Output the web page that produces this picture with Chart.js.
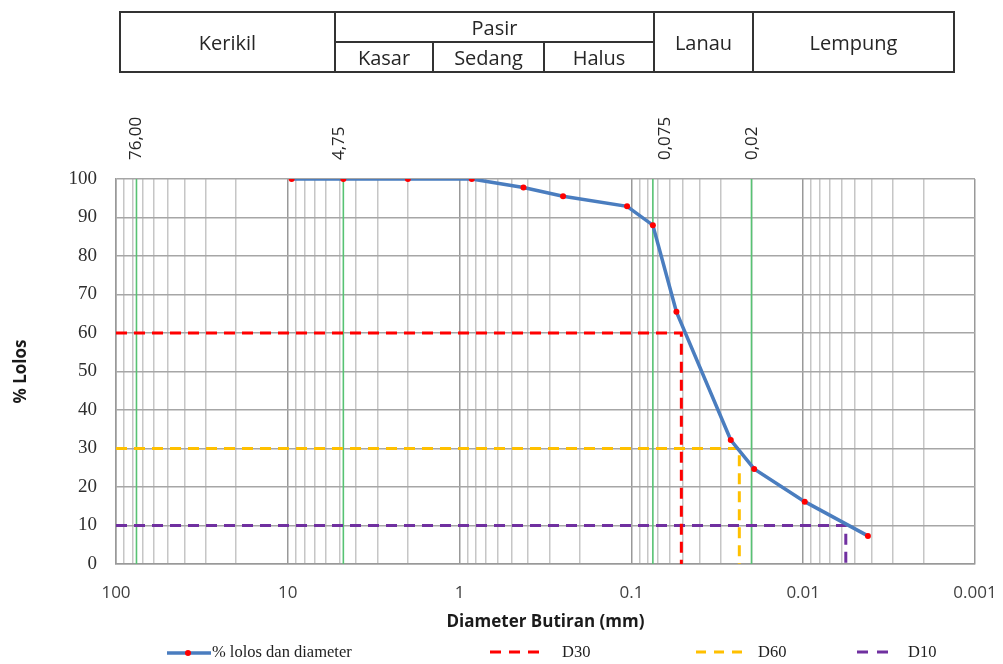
<!DOCTYPE html>
<html>
<head>
<meta charset="utf-8">
<script src="https://cdn.jsdelivr.net/npm/chart.js@4.4.0/dist/chart.umd.min.js"></script>
<style>
  html, body { margin:0; padding:0; background:#fff; }
  #wrap { position:relative; width:1003px; height:664px; overflow:hidden; }
  #c { position:absolute; left:0; top:0; }
  .cell { position:absolute; box-sizing:border-box; border:2px solid #333; display:flex; align-items:center; justify-content:center;
          font-family:"Open Sans", sans-serif; font-size:20px; color:#262626; background:transparent; }
  .leg { position:absolute; top:642px; height:20px; font-family:"Liberation Serif", serif; font-size:16.5px; color:#222; line-height:20px; white-space:nowrap; }
  .legsvg { position:absolute; top:643px; }
</style>
</head>
<body>
<div id="wrap">
  <canvas id="c" width="1003" height="664"></canvas>

  <!-- classification table -->
  <div class="cell" style="left:119px; top:11px; width:217px; height:62px;">Kerikil</div>
  <div class="cell" style="left:334px; top:11px; width:321px; height:32px;">Pasir</div>
  <div class="cell" style="left:334px; top:41px; width:100px; height:32px;">Kasar</div>
  <div class="cell" style="left:432px; top:41px; width:113px; height:32px;">Sedang</div>
  <div class="cell" style="left:543px; top:41px; width:112px; height:32px;">Halus</div>
  <div class="cell" style="left:653px; top:11px; width:101px; height:62px;">Lanau</div>
  <div class="cell" style="left:752px; top:11px; width:203px; height:62px;">Lempung</div>

  <!-- legend -->
  <svg class="legsvg" style="left:166px;" width="46" height="20">
    <line x1="1" y1="10" x2="45" y2="10" stroke="#4a7dbf" stroke-width="3.5"/>
    <circle cx="22" cy="10" r="3" fill="#ff0000"/>
  </svg>
  <div class="leg" style="left:212px;">% lolos dan diameter</div>
  <svg class="legsvg" style="left:489px;" width="52" height="20">
    <line x1="1" y1="9" x2="51" y2="9" stroke="#ff0000" stroke-width="3" stroke-dasharray="11,8"/>
  </svg>
  <div class="leg" style="left:562px;">D30</div>
  <svg class="legsvg" style="left:695px;" width="50" height="20">
    <line x1="1" y1="9" x2="48" y2="9" stroke="#ffc000" stroke-width="3" stroke-dasharray="10,8"/>
  </svg>
  <div class="leg" style="left:758px;">D60</div>
  <svg class="legsvg" style="left:856px;" width="36" height="20">
    <line x1="1" y1="9" x2="34" y2="9" stroke="#7030a0" stroke-width="3" stroke-dasharray="11,9"/>
  </svg>
  <div class="leg" style="left:908px;">D10</div>
</div>

<script>
// ---- data ----
const diameters      = [9.5, 4.75, 2.0, 0.85, 0.425, 0.25, 0.106, 0.075, 0.0547, 0.0264, 0.0193, 0.0098, 0.0042];
const percentPassing = [100, 100, 100, 100, 97.8, 95.5, 92.9, 88.0, 65.5, 32.2, 24.7, 16.2, 7.3];

const d30X = [100, 0.0512, 0.0512];
const d30Y = [60, 60, 0];
const d60X = [100, 0.02354, 0.02354];
const d60Y = [30, 30, 0];
const d10X = [100, 0.00565, 0.00565];
const d10Y = [10, 10, 0];

const markerValues = [76, 4.75, 0.075, 0.02];
const markerLabels = ['76,00', '4,75', '0,075', '0,02'];

const xTickValues = [100, 10, 1, 0.1, 0.01, 0.001];
const xTickLabels = ['100', '10', '1', '0.1', '0.01', '0.001'];
const yTickValues = [0, 10, 20, 30, 40, 50, 60, 70, 80, 90, 100];

// ---- helpers ----
const pts = (xs, ys) => xs.map((x, i) => ({ x: x, y: ys[i] }));
const isDecade = v => Math.abs(Math.log10(v) - Math.round(Math.log10(v))) < 1e-6;

// grid positions of a log axis: 1..9 x 10^k
const gridValues = [];
for (let k = -3; k <= 1; k++) for (let m = 1; m <= 9; m++) gridValues.push(+(m * Math.pow(10, k)).toPrecision(6));
gridValues.push(100);

const markerDatasets = markerValues.map(v => ({
  label: 'm' + v,
  data: [{ x: v, y: 0 }, { x: v, y: 100 }],
  borderColor: '#57c273',
  borderWidth: 1.6,
  pointRadius: 0,
  order: 3
}));

const markerLabelPlugin = {
  id: 'markerLabels',
  afterDraw(chart) {
    const ctx = chart.ctx;
    const xs = chart.scales.x;
    const offsets = [0, -4, 12, 1];
    ctx.save();
    ctx.fillStyle = '#262626';
    ctx.font = '17px "Open Sans", sans-serif';
    ctx.textAlign = 'left';
    ctx.textBaseline = 'middle';
    markerValues.forEach((v, i) => {
      const px = xs.getPixelForValue(v) + offsets[i];
      ctx.save();
      ctx.translate(px, 160);
      ctx.rotate(-Math.PI / 2);
      ctx.fillText(markerLabels[i], 0, 0);
      ctx.restore();
    });
    ctx.restore();
  }
};

new Chart(document.getElementById('c'), {
  type: 'line',
  data: {
    datasets: [
      {
        label: '% lolos dan diameter',
        data: pts(diameters, percentPassing),
        borderColor: '#4a7dbf',
        borderWidth: 3.5,
        pointRadius: 3,
        pointBackgroundColor: '#ff0000',
        pointBorderWidth: 0,
        pointBorderColor: '#ff0000',
        tension: 0,
        order: 0
      },
      { label: 'D30', data: pts(d30X, d30Y), borderColor: '#ff0000', borderWidth: 3, borderDash: [11, 7], pointRadius: 0, order: 1 },
      { label: 'D60', data: pts(d60X, d60Y), borderColor: '#ffc000', borderWidth: 3, borderDash: [11, 7], pointRadius: 0, order: 1 },
      { label: 'D10', data: pts(d10X, d10Y), borderColor: '#7030a0', borderWidth: 3, borderDash: [11, 7], pointRadius: 0, order: 1 },
      ...markerDatasets
    ]
  },
  options: {
    responsive: false,
    devicePixelRatio: 1,
    animation: false,
    layout: { padding: { left: 0, right: 28, top: 179, bottom: 24 } },
    plugins: { legend: { display: false }, tooltip: { enabled: false } },
    scales: {
      x: {
        type: 'logarithmic',
        reverse: true,
        min: 0.001,
        max: 100,
        afterBuildTicks: s => { s.ticks = gridValues.map(v => ({ value: v })); },
        afterFit: s => { s.height = 76; },
        ticks: {
          autoSkip: false,
          maxRotation: 0,
          padding: 19,
          color: '#404040',
          font: { family: '"Open Sans", sans-serif', size: 17 },
          callback: v => {
            const i = xTickValues.findIndex(t => Math.abs(Math.log10(t) - Math.log10(v)) < 1e-6);
            return i >= 0 ? xTickLabels[i] : '';
          }
        },
        grid: {
          drawTicks: false,
          lineWidth: 1.5,
          color: c => (c.tick && isDecade(c.tick.value)) ? '#999999' : '#c6c6c6'
        },
        border: { display: true, color: '#999999', width: 1.5 },
        title: {
          display: true,
          text: 'Diameter Butiran (mm)',
          color: '#1a1a1a',
          font: { family: '"Open Sans", sans-serif', size: 17, weight: 'bold' },
          padding: { top: 0, bottom: 8 }
        }
      },
      y: {
        type: 'linear',
        min: 0,
        max: 100,
        afterBuildTicks: s => { s.ticks = yTickValues.map(v => ({ value: v })); },
        afterFit: s => { s.width = 116; },
        ticks: {
          padding: 19,
          color: '#2e2e2e',
          font: { family: '"Liberation Serif", serif', size: 19 }
        },
        grid: { drawTicks: false, lineWidth: 1.5, color: '#a6a6a6' },
        border: { display: true, color: '#999999', width: 1.5 },
        title: {
          display: true,
          text: '% Lolos',
          color: '#1a1a1a',
          font: { family: '"Open Sans", sans-serif', size: 17, weight: 'bold' },
          padding: { top: 11, bottom: 0 }
        }
      }
    }
  },
  plugins: [markerLabelPlugin]
});
</script>
</body>
</html>
